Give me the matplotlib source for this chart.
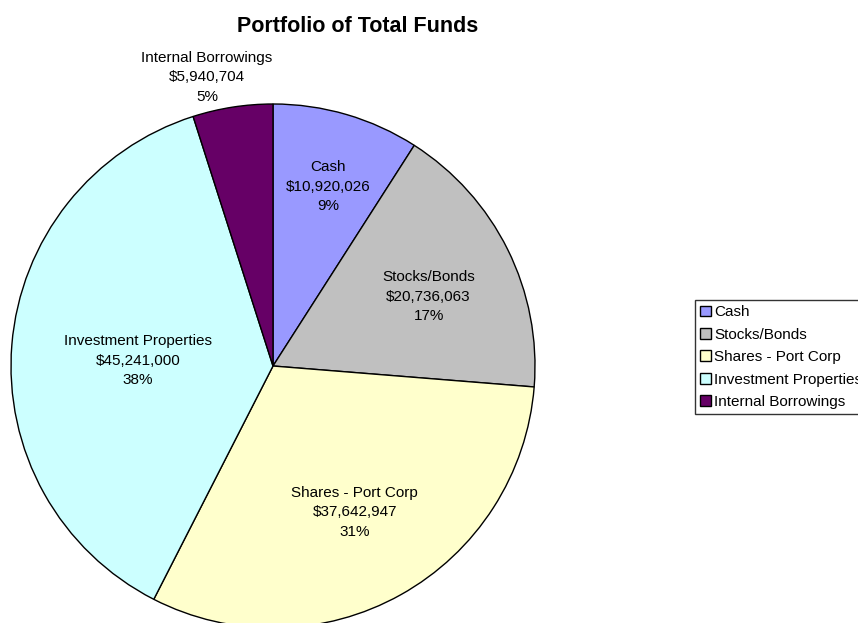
import numpy as np
from matplotlib import pyplot as plt

plt.rcParams['font.family'] = ['Liberation Sans', 'DejaVu Sans']

# data
categories = ["Cash", "Stocks/Bonds", "Shares - Port Corp",
              "Investment Properties", "Internal Borrowings"]
amounts = [10920026, 20736063, 37642947, 45241000, 5940704]
colors = ["#9999FF", "#C0C0C0", "#FFFFCC", "#CCFFFF", "#660066"]

# label placement: distance from centre (fraction of radius), angle tweak in degrees
label_dist = [0.715, 0.65, 0.64, 0.515, 1.13]
label_turn = [-0.8, -2.4, 0, 2.5, 4]

fig = plt.figure(figsize=(8.58, 6.23), dpi=100)
ax = fig.add_axes([0, 0, 1, 1])

cx, cy, r = 273, 623 - 366, 262
wedges, _ = ax.pie(amounts, colors=colors, startangle=90, counterclock=False,
                   center=(cx, cy), radius=r,
                   wedgeprops=dict(edgecolor="black", linewidth=1))
ax.set_xlim(0, 858)
ax.set_ylim(0, 623)
ax.set_aspect("equal")
ax.axis("off")

total = float(sum(amounts))
for w, name, val, d, t in zip(wedges, categories, amounts, label_dist, label_turn):
    ang = np.deg2rad((w.theta1 + w.theta2) / 2 + t)
    x = cx + d * r * np.cos(ang)
    y = cy + d * r * np.sin(ang)
    txt = "{}\n${:,}\n{:.0f}%".format(name, val, 100 * val / total)
    ax.text(x, y, txt, ha="center", va="center", fontsize=11, linespacing=1.5)

fig.text(358 / 858, 1 - 27 / 623, "Portfolio of Total Funds", ha="center",
         va="center", fontsize=15.5, fontweight="bold")

# legend runs past the right edge, as in the original
leg = fig.legend(wedges, categories, loc="upper left",
                 bbox_to_anchor=(695 / 858, 1 - 300 / 623),
                 bbox_transform=fig.transFigure, borderaxespad=0,
                 fontsize=11, frameon=True, fancybox=False,
                 handlelength=0.7, handleheight=0.7, handletextpad=0.2,
                 labelspacing=0.55, borderpad=0.35)
leg.get_frame().set_edgecolor("black")
leg.get_frame().set_linewidth(1)

fig.savefig("out.png", dpi=100)
